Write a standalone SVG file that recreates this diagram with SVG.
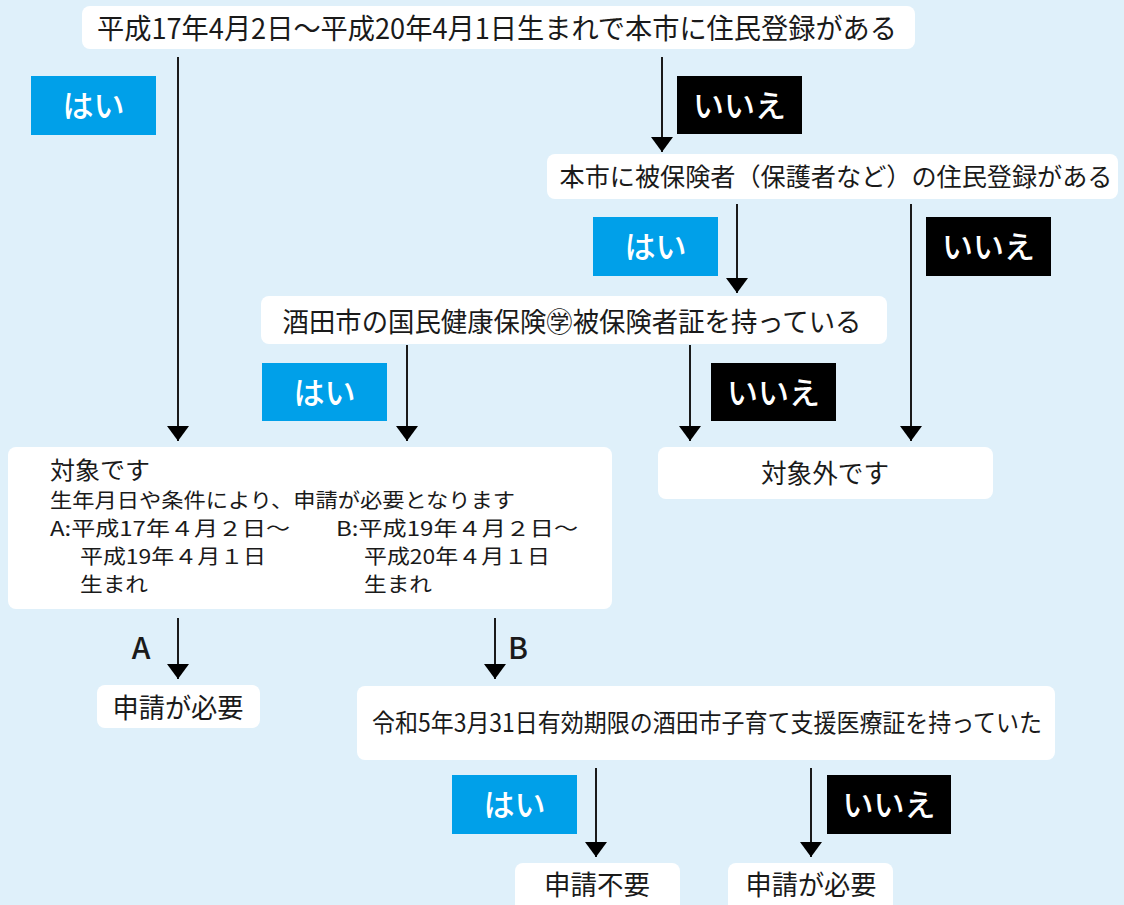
<svg xmlns="http://www.w3.org/2000/svg" width="1124" height="905" viewBox="0 0 1124 905">
<defs>
<style>
.box{fill:#ffffff;}
.t{font-family:"Noto Sans CJK JP","Noto Sans",sans-serif;fill:#1a1a1a;}
.c{text-anchor:middle;}
.yes{fill:#00a0e9;}
.no{fill:#000000;}
.lbl{font-family:"Noto Sans CJK JP","Noto Sans",sans-serif;fill:#ffffff;font-weight:500;font-size:31px;text-anchor:middle;}
.ab{font-family:"Noto Sans CJK JP","Noto Sans",sans-serif;fill:#1a1a1a;font-weight:500;font-size:30px;text-anchor:middle;}
.ln{stroke:#1a1a1a;stroke-width:2;fill:none;marker-end:url(#ah);}
</style>
<marker id="ah" markerUnits="userSpaceOnUse" viewBox="0 0 15 22" markerWidth="15" markerHeight="22" refX="15" refY="11" orient="auto">
<path d="M0,0 L15,11 L0,22 z" fill="#000"/>
</marker>
</defs>
<rect x="0" y="0" width="1124" height="905" fill="#dff0fa"/>

<g id="connectors">
<line class="ln" x1="178" y1="57" x2="178" y2="441"/>
<line class="ln" x1="662" y1="57" x2="662" y2="152"/>
<line class="ln" x1="737" y1="204" x2="737" y2="293"/>
<line class="ln" x1="911" y1="204" x2="911" y2="441"/>
<line class="ln" x1="407" y1="345" x2="407" y2="441"/>
<line class="ln" x1="690" y1="345" x2="690" y2="441"/>
<line class="ln" x1="178" y1="618" x2="178" y2="679"/>
<line class="ln" x1="495" y1="618" x2="495" y2="679"/>
<line class="ln" x1="596" y1="768" x2="596" y2="857"/>
<line class="ln" x1="811" y1="768" x2="811" y2="857"/>
<text class="ab" x="141" y="659">A</text>
<text class="ab" x="518" y="659">B</text>
</g>

<g id="label-yes-1"><rect class="yes" x="31" y="76" width="125" height="59"/><text class="lbl" x="93.5" y="117">はい</text></g>
<g id="label-no-1"><rect class="no" x="677" y="76" width="125" height="58"/><text class="lbl" x="739.5" y="117">いいえ</text></g>
<g id="label-yes-2"><rect class="yes" x="593" y="217" width="125" height="59"/><text class="lbl" x="655.5" y="258">はい</text></g>
<g id="label-no-2"><rect class="no" x="926" y="217" width="125" height="59"/><text class="lbl" x="988.5" y="258">いいえ</text></g>
<g id="label-yes-3"><rect class="yes" x="262" y="363" width="125" height="58"/><text class="lbl" x="324.5" y="404">はい</text></g>
<g id="label-no-3"><rect class="no" x="711" y="363" width="125" height="58"/><text class="lbl" x="773.5" y="404">いいえ</text></g>
<g id="label-yes-4"><rect class="yes" x="452" y="775" width="125" height="59"/><text class="lbl" x="514.5" y="816">はい</text></g>
<g id="label-no-4"><rect class="no" x="827" y="775" width="124" height="59"/><text class="lbl" x="889" y="816">いいえ</text></g>

<g id="node-q1"><rect class="box" x="82" y="6" width="833" height="43" rx="8"/><text class="t c" x="497" y="39" font-size="28" textLength="800" lengthAdjust="spacingAndGlyphs">平成17年4月2日～平成20年4月1日生まれで本市に住民登録がある</text></g>
<g id="node-q2"><rect class="box" x="547" y="154" width="571" height="45" rx="8"/><text class="t c" x="836" y="186" font-size="25" textLength="553" lengthAdjust="spacingAndGlyphs">本市に被保険者（保護者など）の住民登録がある</text></g>
<g id="node-q3"><rect class="box" x="261" y="296" width="626" height="48" rx="8"/><text class="t c" x="572" y="332" font-size="27" textLength="579" lengthAdjust="spacingAndGlyphs">酒田市の国民健康保険㊫被保険者証を持っている</text></g>

<g id="node-target"><rect class="box" x="8" y="447" width="604" height="162" rx="8"/>
<text class="t" x="50" y="479" font-size="24" textLength="100" lengthAdjust="spacingAndGlyphs">対象です</text>
<text class="t" x="50" y="508" font-size="20" textLength="465" lengthAdjust="spacingAndGlyphs">生年月日や条件により、申請が必要となります</text>
<text class="t" x="50" y="536" font-size="20" textLength="240" lengthAdjust="spacingAndGlyphs">A:平成17年４月２日～</text>
<text class="t" x="336" y="536" font-size="20" textLength="242" lengthAdjust="spacingAndGlyphs">B:平成19年４月２日～</text>
<text class="t" x="80" y="564" font-size="20" textLength="186" lengthAdjust="spacingAndGlyphs">平成19年４月１日</text>
<text class="t" x="364" y="564" font-size="20" textLength="186" lengthAdjust="spacingAndGlyphs">平成20年４月１日</text>
<text class="t" x="80" y="592" font-size="20" textLength="68" lengthAdjust="spacingAndGlyphs">生まれ</text>
<text class="t" x="364" y="592" font-size="20" textLength="68" lengthAdjust="spacingAndGlyphs">生まれ</text>
</g>
<g id="node-out"><rect class="box" x="658" y="447" width="335" height="52" rx="8"/><text class="t c" x="825" y="483" font-size="26" textLength="128" lengthAdjust="spacingAndGlyphs">対象外です</text></g>

<g id="node-apply-a"><rect class="box" x="97" y="685" width="163" height="43" rx="8"/><text class="t c" x="178" y="718" font-size="27" textLength="131" lengthAdjust="spacingAndGlyphs">申請が必要</text></g>
<g id="node-q4"><rect class="box" x="357" y="686" width="698" height="74" rx="8"/><text class="t c" x="707" y="732" font-size="25" textLength="670" lengthAdjust="spacingAndGlyphs">令和5年3月31日有効期限の酒田市子育て支援医療証を持っていた</text></g>
<g id="node-noneed"><rect class="box" x="515" y="863" width="165" height="50" rx="8"/><text class="t c" x="597" y="895" font-size="27" textLength="106" lengthAdjust="spacingAndGlyphs">申請不要</text></g>
<g id="node-apply-b"><rect class="box" x="728" y="863" width="165" height="50" rx="8"/><text class="t c" x="811" y="895" font-size="27" textLength="131" lengthAdjust="spacingAndGlyphs">申請が必要</text></g>
</svg>
